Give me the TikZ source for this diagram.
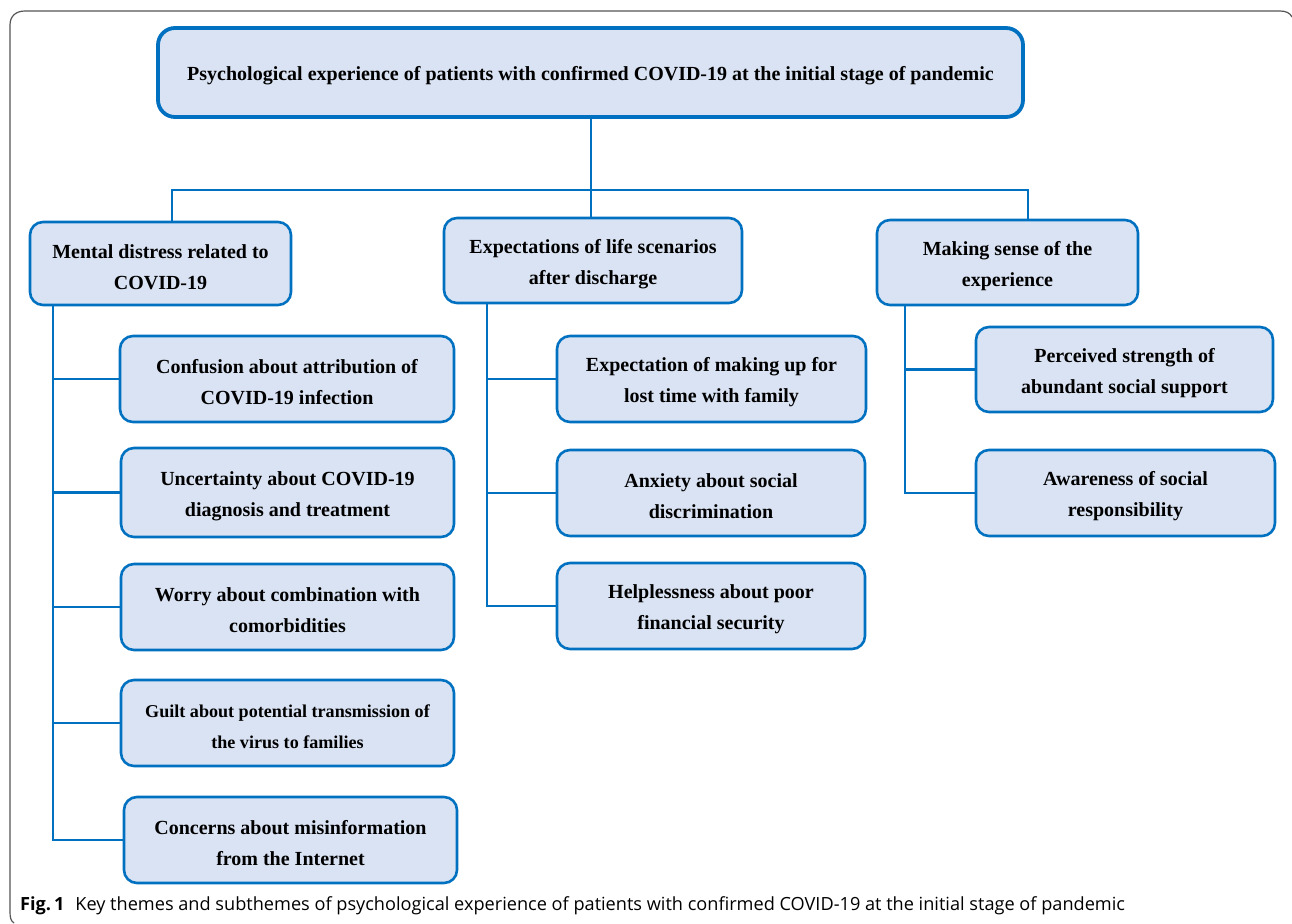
\documentclass[tikz,border=0pt]{standalone}
\usepackage{fontspec}
\setmainfont{Liberation Serif}
\newfontfamily\capfont{Open Sans}
\definecolor{boxblue}{HTML}{0070C0}
\definecolor{boxfill}{HTML}{DAE3F3}
\definecolor{framegray}{HTML}{555555}
\newcommand\tup{\rule{0pt}{21pt}}
\begin{document}
\begin{tikzpicture}[x=1pt,y=-1pt,
  box/.style={draw=boxblue, fill=boxfill, line width=2.6pt, rounded corners=13pt,
    align=center, inner sep=0pt, font=\fontsize{20}{31}\selectfont\bfseries},
  topbox/.style={box, line width=3.8pt, rounded corners=17pt},
  conn/.style={draw=boxblue, line width=2.8pt}]
\useasboundingbox (0,0) rectangle (1292,923);
% frame
\draw[framegray, line width=1.2pt] (10,912) -- (10,25) .. controls (10,16) and (16,11) .. (25,11) -- (1280,11) .. controls (1286,11) and (1290,13) .. (1292,17);
\draw[framegray, line width=1.2pt] (10,912) .. controls (10,918) and (11,921) .. (14,923);
% top
\node[topbox, minimum width=865pt, minimum height=89pt] (top) at (590.5,72.5)
  {\tup Psychological experience of patients with confirmed COVID-19 at the initial stage of pandemic};
% themes
\node[box, minimum width=261pt, minimum height=83pt] (t1) at (160.5,263.5) {\tup Mental distress related to\\COVID-19};
\node[box, minimum width=298pt, minimum height=85pt] (t2) at (593,260.5) {\tup Expectations of life scenarios\\after discharge};
\node[box, minimum width=261pt, minimum height=85pt] (t3) at (1007.5,262.5) {\tup Making sense of the\\experience};
% left subthemes
\node[box, minimum width=334pt, minimum height=86pt] (a1) at (287,379) {\tup Confusion about attribution of\\COVID-19 infection};
\node[box, minimum width=333pt, minimum height=89pt] (a2) at (287.5,492.5) {\tup Uncertainty about COVID-19\\diagnosis and treatment};
\node[box, minimum width=333pt, minimum height=86pt] (a3) at (287.5,607) {\tup Worry about combination with\\comorbidities};
\node[box, minimum width=333pt, minimum height=86pt, font=\fontsize{18.1}{31}\selectfont\bfseries] (a4) at (287.5,723) {\tup Guilt about potential transmission of\\the virus to families};
\node[box, minimum width=333pt, minimum height=86pt] (a5) at (290.5,840) {\tup Concerns about misinformation\\from the Internet};
% middle subthemes
\node[box, minimum width=309pt, minimum height=86pt] (b1) at (711.5,379) {\tup Expectation of making up for\\lost time with family};
\node[box, minimum width=308pt, minimum height=86pt] (b2) at (711,493) {\tup Anxiety about social\\discrimination};
\node[box, minimum width=308pt, minimum height=86pt] (b3) at (711,606) {\tup Helplessness about poor\\financial security};
% right subthemes
\node[box, minimum width=297pt, minimum height=85pt] (c1) at (1124.5,369.5) {\tup Perceived strength of\\abundant social support};
\node[box, minimum width=299pt, minimum height=86pt] (c2) at (1125.5,493) {\tup Awareness of social\\responsibility};
% connectors
\coordinate (bus) at (591,190);
\coordinate (busL) at (172,190);
\coordinate (busR) at (1028,190);
\draw[conn] (top.south -| bus) -- (bus);
\draw[conn] (t1.north -| busL) -- (busL) -- (busR) -- (t3.north -| busR);
\draw[conn] (t2.north -| bus) -- (bus);
\coordinate (sp1) at (53,0);
\coordinate (sp2) at (487,0);
\coordinate (sp3) at (905,0);
\draw[conn] (t1.south -| sp1) -- (sp1 |- a5.west) -- (a5.west);
\foreach \n in {a1,a2,a3,a4} \draw[conn] (sp1 |- \n.west) -- (\n.west);
\draw[conn] (t2.south -| sp2) -- (sp2 |- b3.west) -- (b3.west);
\foreach \n in {b1,b2} \draw[conn] (sp2 |- \n.west) -- (\n.west);
\draw[conn] (t3.south -| sp3) -- (sp3 |- c2.west) -- (c2.west);
\draw[conn] (sp3 |- c1.west) -- (c1.west);
% caption
\node[anchor=base west, inner sep=0pt, font=\capfont\fontsize{18.15}{20}\selectfont] (cap) at (20,910)
  {\textbf{Fig.\,1}\hspace{0.6em}Key themes and subthemes of psychological experience of patients with confirmed COVID-19 at the initial stage of pandemic};
\end{tikzpicture}
\end{document}
